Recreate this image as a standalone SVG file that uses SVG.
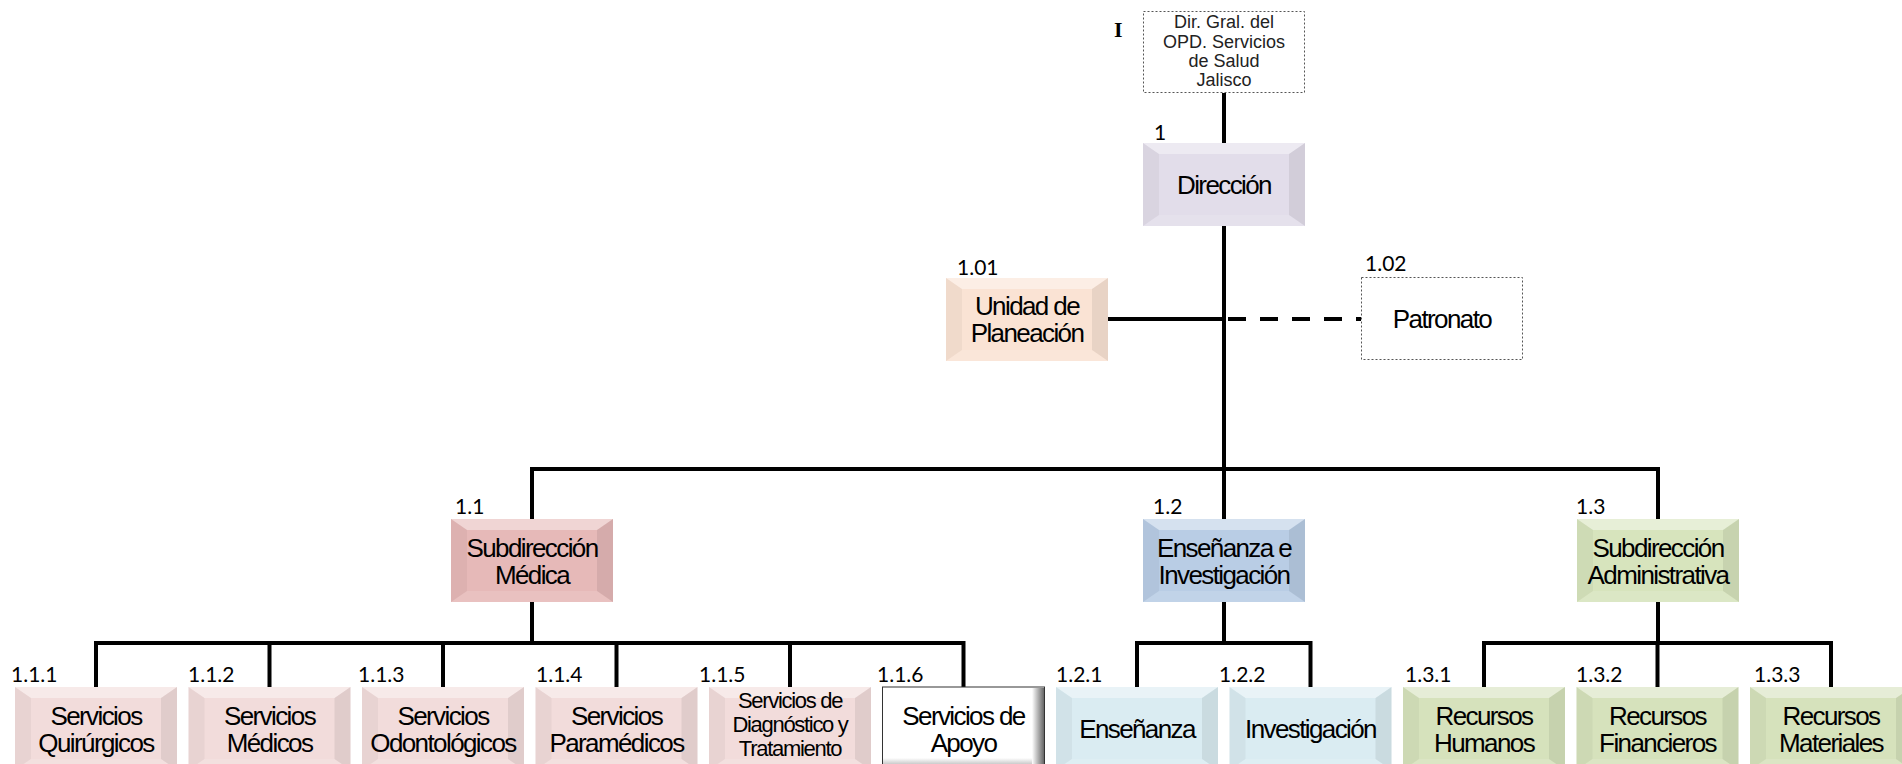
<svg xmlns="http://www.w3.org/2000/svg" width="1902" height="764" viewBox="0 0 1902 764">
<style>
.n{font-family:"Liberation Sans",Arial,sans-serif;font-size:26px;letter-spacing:-1.6px;text-anchor:middle;fill:#000}
.s{font-size:22px;letter-spacing:-1.3px}
.d{font-family:"Liberation Sans",Arial,sans-serif;font-size:18px;text-anchor:middle;fill:#222}
.lb{font-family:Lato,"Liberation Sans",sans-serif;font-size:21px;fill:#000}
.c{fill:none;stroke:#000;stroke-width:4}
.dash{stroke-dasharray:18 14}
.dot{fill:#fff;stroke:#555;stroke-width:1;stroke-dasharray:2 2}
.lav{fill:#E2DDEA}.pea{fill:#FAE3D4}.ros{fill:#E6B9B8}.blu{fill:#B9CDE5}.grn{fill:#D7E4BD}
.pnk{fill:#F2DCDB}.lbl{fill:#DAECF2}.lgr{fill:#D6E2BC}
</style>
<defs>
<g id="bev">
<polygon points="0,0 162,0 146,11 16,11" fill="#fff" fill-opacity="0.4"/>
<polygon points="0,0 16,11 16,72 0,83" fill="#000" fill-opacity="0.04"/>
<polygon points="162,0 162,83 146,72 146,11" fill="#000" fill-opacity="0.07"/>
<polygon points="0,83 16,72 146,72 162,83" fill="#fff" fill-opacity="0.12"/>
</g>
<linearGradient id="shR" x1="0" y1="0" x2="1" y2="0">
<stop offset="0" stop-color="#fff"/><stop offset="1" stop-color="#666"/>
</linearGradient>
<linearGradient id="shB" x1="0" y1="0" x2="0" y2="1">
<stop offset="0" stop-color="#fff"/><stop offset="1" stop-color="#777"/>
</linearGradient>
</defs>

<g id="connectors">
<path class="c" d="M1224,93 V143"/>
<path class="c" d="M1224,226 V519"/>
<path class="c" d="M1107,319 H1224"/>
<path class="c dash" d="M1228,319 H1361"/>
<path class="c" d="M532,519 V469 H1658 V519"/>
<path class="c" d="M532,602 V643"/>
<path class="c" d="M96,687 V643 H963.5 V687"/>
<path class="c" d="M269.5,643 V687 M443,643 V687 M616.5,643 V687 M790,643 V687"/>
<path class="c" d="M1224,602 V643"/>
<path class="c" d="M1137,687 V643 H1310.5 V687"/>
<path class="c" d="M1658,602 V643"/>
<path class="c" d="M1484,687 V643 H1831 V687 M1657.5,643 V687"/>
</g>

<text x="1114" y="37" font-family="'Liberation Serif',serif" font-weight="bold" font-size="22">I</text>

<g id="dir-gral">
<rect class="dot" x="1143.5" y="11.5" width="161" height="81"/>
<text class="d" x="1224" y="28">Dir. Gral. del</text>
<text class="d" x="1224" y="47.5">OPD. Servicios</text>
<text class="d" x="1224" y="67">de Salud</text>
<text class="d" x="1224" y="86">Jalisco</text>
</g>

<g id="direccion">
<text class="lb" x="1154" y="140">1</text>
<rect class="lav" x="1143" y="143" width="162" height="83"/><use href="#bev" x="1143" y="143"/>
<text class="n" x="1224" y="193.5">Dirección</text>
</g>

<g id="unidad-planeacion">
<text class="lb" x="957" y="275">1.01</text>
<rect class="pea" x="946" y="278" width="162" height="83"/><use href="#bev" x="946" y="278"/>
<text class="n" x="1027" y="315">Unidad de</text>
<text class="n" x="1027" y="342">Planeación</text>
</g>

<g id="patronato">
<text class="lb" x="1365" y="271">1.02</text>
<rect class="dot" x="1361.5" y="277.5" width="161" height="82"/>
<text class="n" x="1442" y="327.5">Patronato</text>
</g>

<g id="sub-medica">
<text class="lb" x="455" y="514">1.1</text>
<rect class="ros" x="451" y="519" width="162" height="83"/><use href="#bev" x="451" y="519"/>
<text class="n" x="532" y="556.5">Subdirección</text>
<text class="n" x="532" y="583.5">Médica</text>
</g>

<g id="ensenanza-inv">
<text class="lb" x="1153" y="514">1.2</text>
<rect class="blu" x="1143" y="519" width="162" height="83"/><use href="#bev" x="1143" y="519"/>
<text class="n" x="1224" y="556.5">Enseñanza e</text>
<text class="n" x="1224" y="583.5">Investigación</text>
</g>

<g id="sub-admin">
<text class="lb" x="1576" y="514">1.3</text>
<rect class="grn" x="1577" y="519" width="162" height="83"/><use href="#bev" x="1577" y="519"/>
<text class="n" x="1658" y="556.5">Subdirección</text>
<text class="n" x="1658" y="583.5">Administrativa</text>
</g>

<g id="n111">
<text class="lb" x="11" y="682">1.1.1</text>
<rect class="pnk" x="15" y="687" width="162" height="83"/><use href="#bev" x="15" y="687"/>
<text class="n" x="96" y="724.5">Servicios</text>
<text class="n" x="96" y="751.5">Quirúrgicos</text>
</g>
<g id="n112">
<text class="lb" x="188" y="682">1.1.2</text>
<rect class="pnk" x="188.5" y="687" width="162" height="83"/><use href="#bev" x="188.5" y="687"/>
<text class="n" x="269.5" y="724.5">Servicios</text>
<text class="n" x="269.5" y="751.5">Médicos</text>
</g>
<g id="n113">
<text class="lb" x="358" y="682">1.1.3</text>
<rect class="pnk" x="362" y="687" width="162" height="83"/><use href="#bev" x="362" y="687"/>
<text class="n" x="443" y="724.5">Servicios</text>
<text class="n" x="443" y="751.5">Odontológicos</text>
</g>
<g id="n114">
<text class="lb" x="536" y="682">1.1.4</text>
<rect class="pnk" x="535.5" y="687" width="162" height="83"/><use href="#bev" x="535.5" y="687"/>
<text class="n" x="616.5" y="724.5">Servicios</text>
<text class="n" x="616.5" y="751.5">Paramédicos</text>
</g>
<g id="n115">
<text class="lb" x="699" y="682">1.1.5</text>
<rect class="pnk" x="709" y="687" width="162" height="83"/><use href="#bev" x="709" y="687"/>
<text class="n s" x="790" y="708">Servicios de</text>
<text class="n s" x="790" y="732">Diagnóstico y</text>
<text class="n s" x="790" y="756">Tratamiento</text>
</g>
<g id="n116">
<text class="lb" x="877" y="682">1.1.6</text>
<rect x="882.5" y="687" width="162" height="83" fill="#fff" stroke="#333" stroke-width="1"/>
<rect x="1032" y="688" width="12" height="81" fill="url(#shR)"/>
<rect x="883" y="758" width="149" height="11" fill="url(#shB)" opacity="0.7"/>
<text class="n" x="963.5" y="724.5">Servicios de</text>
<text class="n" x="963.5" y="751.5">Apoyo</text>
</g>
<g id="n121">
<text class="lb" x="1056" y="682">1.2.1</text>
<rect class="lbl" x="1056" y="687" width="162" height="83"/><use href="#bev" x="1056" y="687"/>
<text class="n" x="1137" y="737.5">Enseñanza</text>
</g>
<g id="n122">
<text class="lb" x="1219" y="682">1.2.2</text>
<rect class="lbl" x="1229.5" y="687" width="162" height="83"/><use href="#bev" x="1229.5" y="687"/>
<text class="n" x="1310.5" y="737.5">Investigación</text>
</g>
<g id="n131">
<text class="lb" x="1405" y="682">1.3.1</text>
<rect class="lgr" x="1403" y="687" width="162" height="83"/><use href="#bev" x="1403" y="687"/>
<text class="n" x="1484" y="724.5">Recursos</text>
<text class="n" x="1484" y="751.5">Humanos</text>
</g>
<g id="n132">
<text class="lb" x="1576" y="682">1.3.2</text>
<rect class="lgr" x="1576.5" y="687" width="162" height="83"/><use href="#bev" x="1576.5" y="687"/>
<text class="n" x="1657.5" y="724.5">Recursos</text>
<text class="n" x="1657.5" y="751.5">Financieros</text>
</g>
<g id="n133">
<text class="lb" x="1754" y="682">1.3.3</text>
<rect class="lgr" x="1750" y="687" width="162" height="83"/><use href="#bev" x="1750" y="687"/>
<text class="n" x="1831" y="724.5">Recursos</text>
<text class="n" x="1831" y="751.5">Materiales</text>
</g>
</svg>
